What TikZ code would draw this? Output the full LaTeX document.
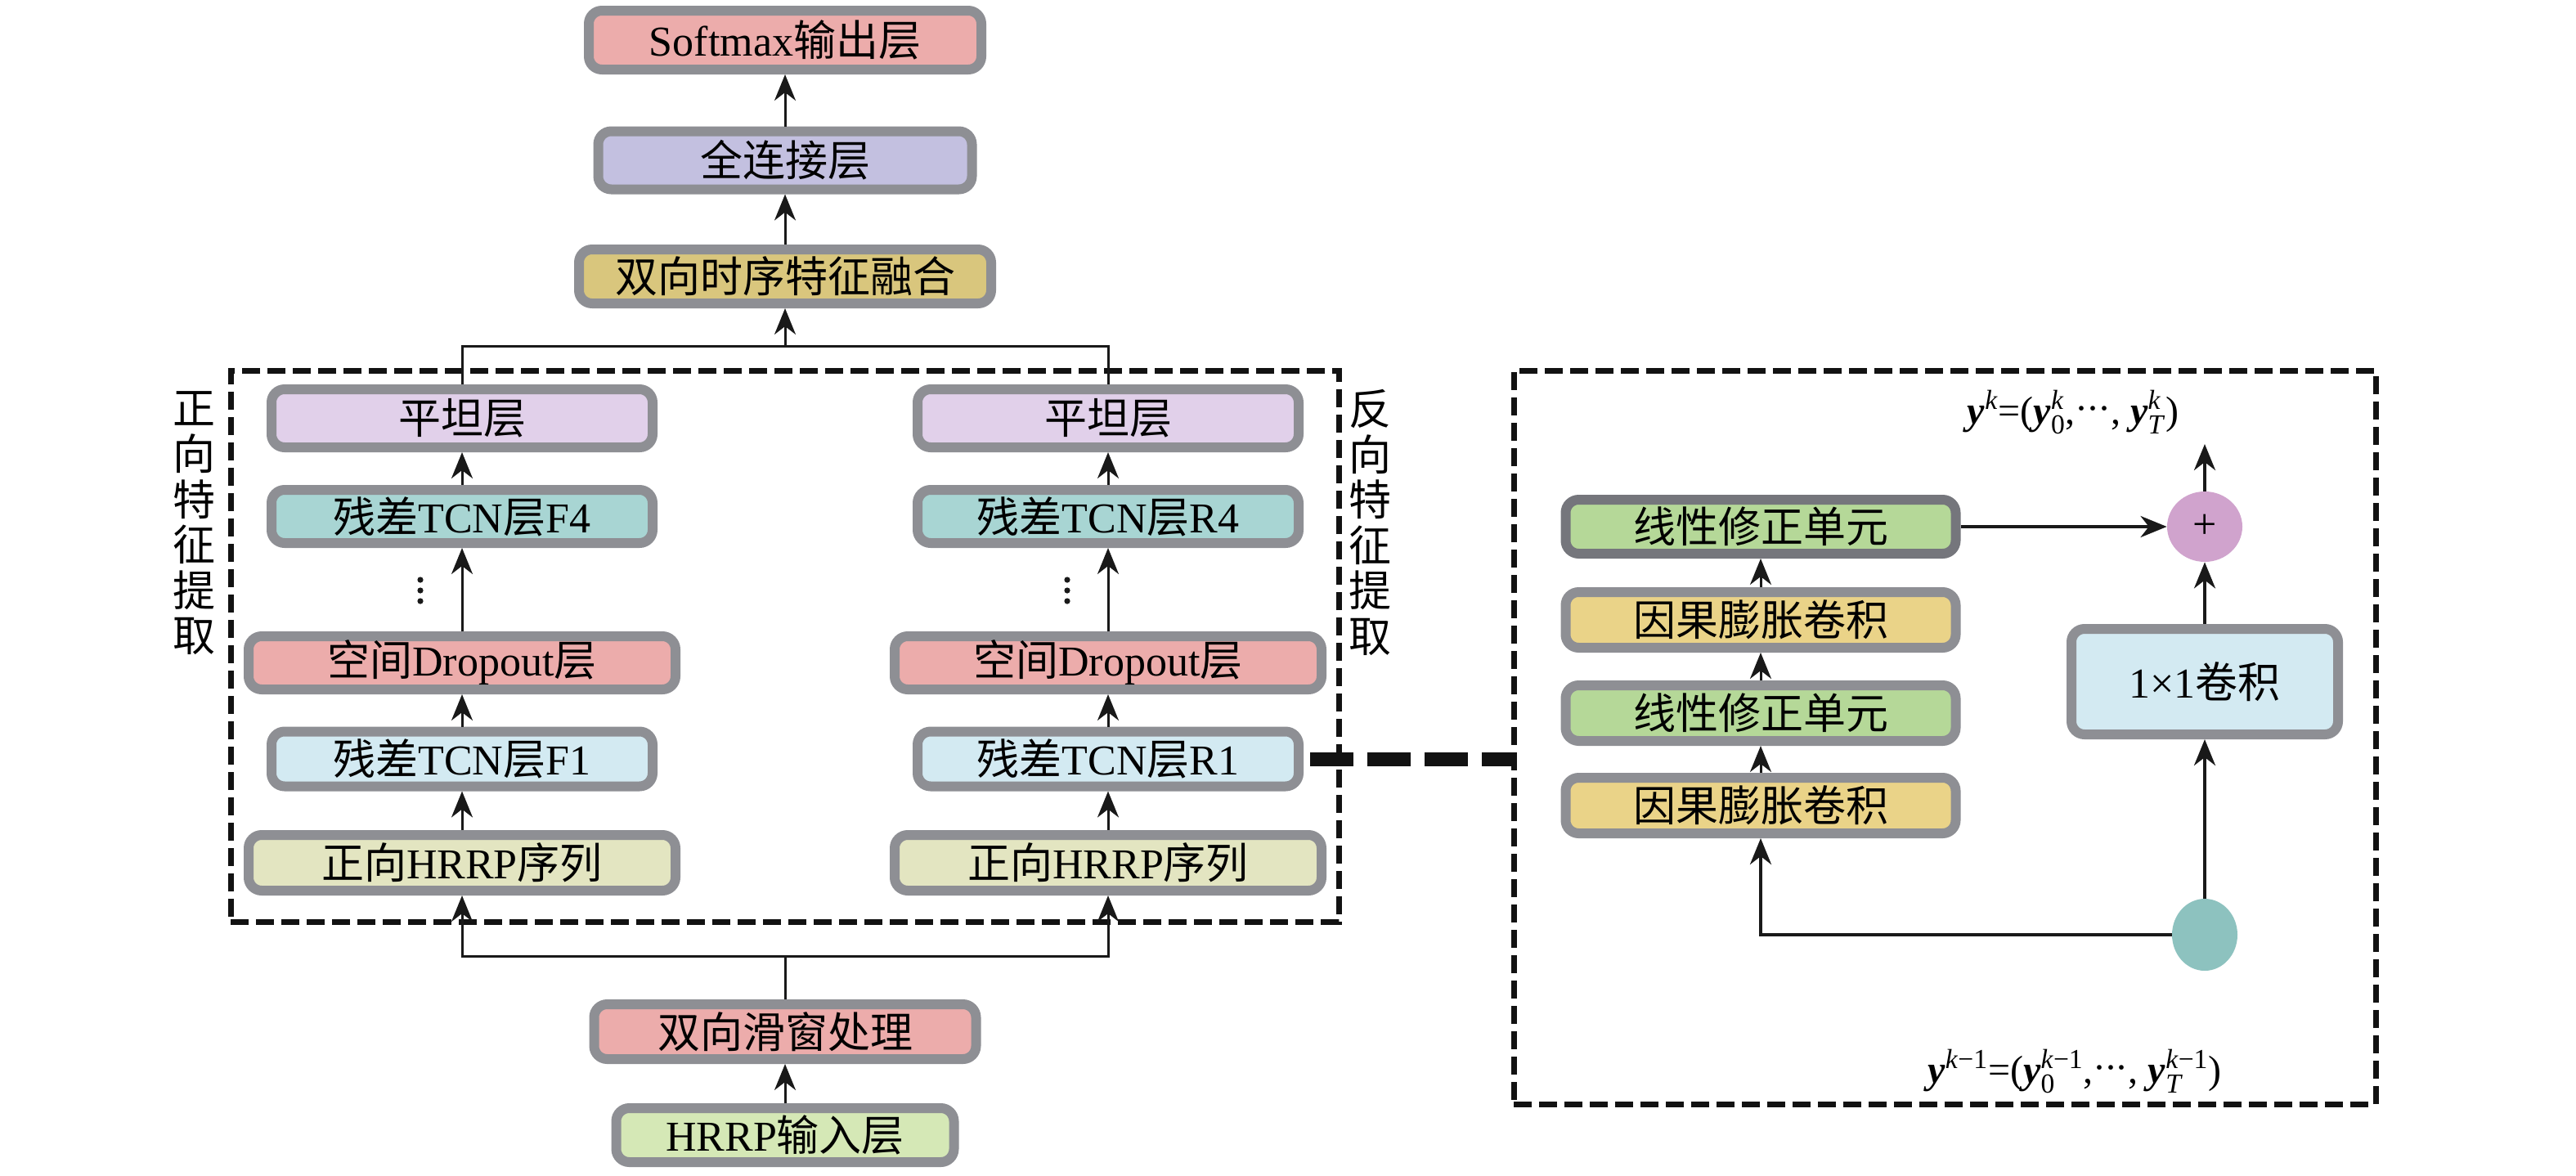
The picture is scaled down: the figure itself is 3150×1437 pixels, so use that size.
\documentclass[tikz,border=0pt]{standalone}
\usepackage{fontspec}
\usepackage{amsmath}
\setmainfont{Liberation Serif}
\newfontfamily\cjk{Noto Sans CJK SC}
\usetikzlibrary{shapes.geometric,arrows.meta}
\newcommand\zh[1]{{\cjk #1}}
\newcommand\yb{\textbf{\textit{y}}}
\newcommand\kk{\textit{k}}
\newcommand\km{\textit{k}\char"2212 1}
\newcommand\mydots{\raisebox{0.15ex}{\char"00B7\kern-0.05em\char"00B7\kern-0.05em\char"00B7}}
\definecolor{bordergray}{HTML}{8E8F94}
\definecolor{borderdark}{HTML}{75767C}
\definecolor{cpink}{HTML}{ECACAB}
\definecolor{clav}{HTML}{C3C0E0}
\definecolor{ckhaki}{HTML}{D9C67D}
\definecolor{clilac}{HTML}{E1D0EA}
\definecolor{cteal}{HTML}{A8D5D3}
\definecolor{cblue}{HTML}{D3EAF2}
\definecolor{ccream}{HTML}{E3E5C1}
\definecolor{clgreen}{HTML}{D5E8B6}
\definecolor{cgreen}{HTML}{B5D898}
\definecolor{cyellow}{HTML}{EAD388}
\definecolor{cplus}{HTML}{D0A3CD}
\definecolor{ctealdot}{HTML}{8DC2BF}
\begin{document}
\begin{tikzpicture}[x=0.5pt,y=-0.5pt,
  box/.style={draw=bordergray, line width=6pt, rounded corners=8pt, inner sep=0pt,
    font=\fontsize{26}{30}\selectfont},
  dbox/.style={draw=black!93, line width=3.5pt, dash pattern=on 11pt off 4.5pt, inner sep=0pt},
  line/.style={line width=1.5pt, draw=black!90},
  arr/.style={line, -{Stealth[length=16pt,width=13pt,inset=5pt]}},
  arrb/.style={line width=2pt, draw=black!90, -{Stealth[length=16pt,width=13pt,inset=5pt]}},
  lbl/.style={inner sep=0pt, font=\fontsize{24}{28}\selectfont},
  side/.style={inner sep=0pt, align=center, font=\cjk\fontsize{26}{27.8}\selectfont}
]
\useasboundingbox (0,0) rectangle (3150,1437);

% ---------------- top column ----------------
\node[box, fill=cpink, minimum width=240pt, minimum height=36pt] (soft) at (960,49) {Softmax\zh{输出层}};
\node[box, fill=clav, minimum width=228.5pt, minimum height=35.5pt] (fc) at (960,196) {\zh{全连接层}};
\node[box, fill=ckhaki, minimum width=252pt, minimum height=33pt] (fuse) at (960,338) {\zh{双向时序特征融合}};

% ---------------- left dashed region ----------------
\node[dbox, minimum width=677.5pt, minimum height=337pt] (lreg) at (959.5,790) {};

\node[box, fill=clilac, minimum width=233pt, minimum height=35.5pt] (flatL) at (565,511.5) {\zh{平坦层}};
\node[box, fill=cteal, minimum width=233pt, minimum height=32.5pt] (tcnF4) at (565,631.5) {\zh{残差}TCN\zh{层}F4};
\node[box, fill=cpink, minimum width=261pt, minimum height=32.5pt] (dropL) at (565,810.5) {\zh{空间}Dropout\zh{层}};
\node[box, fill=cblue, minimum width=233pt, minimum height=33.5pt] (tcnF1) at (565,928) {\zh{残差}TCN\zh{层}F1};
\node[box, fill=ccream, minimum width=261pt, minimum height=34pt] (seqL) at (565,1055) {\zh{正向}HRRP\zh{序列}};

\node[box, fill=clilac, minimum width=233pt, minimum height=35.5pt] (flatR) at (1355,511.5) {\zh{平坦层}};
\node[box, fill=cteal, minimum width=233pt, minimum height=32.5pt] (tcnR4) at (1355,631.5) {\zh{残差}TCN\zh{层}R4};
\node[box, fill=cpink, minimum width=261pt, minimum height=32.5pt] (dropR) at (1355,810.5) {\zh{空间}Dropout\zh{层}};
\node[box, fill=cblue, minimum width=233pt, minimum height=33.5pt] (tcnR1) at (1355,928) {\zh{残差}TCN\zh{层}R1};
\node[box, fill=ccream, minimum width=261pt, minimum height=34pt] (seqR) at (1355,1055) {\zh{正向}HRRP\zh{序列}};

\node[side] (sideL) at (237,640) {正\\向\\特\\征\\提\\取};
\node[side] (sideR) at (1675,639) {反\\向\\特\\征\\提\\取};

% vertical dots
\foreach \yy in {709,722,735} {
  \fill[black!90] (514,\yy) circle (1.8pt);
  \fill[black!90] (1305,\yy) circle (1.8pt);
}

% ---------------- bottom column ----------------
\node[box, fill=cpink, minimum width=233.5pt, minimum height=33.5pt] (slide) at (960,1261.5) {\zh{双向滑窗处理}};
\node[box, fill=clgreen, minimum width=206.5pt, minimum height=33pt] (inp) at (960,1388) {HRRP\zh{输入层}};

\coordinate (mt) at (960,423);
\coordinate (mb) at (960,1169);

% connectors left part
\draw[line] (flatL.north) |- (flatR.north |- mt) -- (flatR.north);
\draw[arr] (mt) -- (fuse.south);
\draw[arr] (fuse.north) -- (fc.south);
\draw[arr] (fc.north) -- (soft.south);

\draw[arr] (tcnF4.north) -- (flatL.south);
\draw[arr] (dropL.north) -- (tcnF4.south);
\draw[arr] (tcnF1.north) -- (dropL.south);
\draw[arr] (seqL.north) -- (tcnF1.south);

\draw[arr] (tcnR4.north) -- (flatR.south);
\draw[arr] (dropR.north) -- (tcnR4.south);
\draw[arr] (tcnR1.north) -- (dropR.south);
\draw[arr] (seqR.north) -- (tcnR1.south);

\draw[line] (slide.north) -- (mb);
\draw[arr] (mb) -| (seqL.south);
\draw[arr] (mb) -| (seqR.south);
\draw[arr] (inp.north) -- (slide.south);

% ---------------- right dashed region ----------------
\node[dbox, minimum width=527pt, minimum height=448.5pt] (rreg) at (2378,901.5) {};

\draw[black!93, line width=8.5pt, dash pattern=on 26.5pt off 8.5pt, shorten <=4pt] (tcnR1.east) -- (rreg.west |- tcnR1.east);

\node[box, draw=borderdark, fill=cgreen, minimum width=238.5pt, minimum height=33pt] (relu1) at (2153,644) {\zh{线性修正单元}};
\node[box, fill=cyellow, minimum width=238.5pt, minimum height=34pt] (cau1) at (2153,758) {\zh{因果膨胀卷积}};
\node[box, fill=cgreen, minimum width=238.5pt, minimum height=34pt] (relu2) at (2153,872) {\zh{线性修正单元}};
\node[box, fill=cyellow, minimum width=238.5pt, minimum height=34pt] (cau2) at (2153,985) {\zh{因果膨胀卷积}};

\node[box, fill=cblue, minimum width=163pt, minimum height=64.5pt] (conv) at (2696,833.5) {1\char"00D7 1\zh{卷积}};

\node[ellipse, fill=cplus, minimum width=46pt, minimum height=43pt, inner sep=0pt, font=\fontsize{26}{26}\selectfont] (plus) at (2696,644) {+};
\node[ellipse, fill=ctealdot, minimum width=40pt, minimum height=44pt, inner sep=0pt] (xin) at (2696,1143) {};

\coordinate (outtip) at (2696,543);

\node[lbl] (yk) at (2535,504) {$\text{\yb}^{\text{\kk}}$=($\text{\yb}^{\text{\kk}}_{\text{0}}$,\mydots, $\text{\yb}^{\text{\kk}}_{\text{\textit{T}}}$)};
\node[lbl] (yk1) at (2537,1310) {$\text{\yb}^{\text{\km}}$=($\text{\yb}^{\text{\km}}_{\text{0}}$,\mydots, $\text{\yb}^{\text{\km}}_{\text{\textit{T}}}$)};

\draw[arrb] (relu1.east) -- (plus.west);
\draw[arrb] (plus.north) -- (outtip);
\draw[arrb] (conv.north) -- (plus.south);
\draw[arrb] (xin.north) -- (conv.south);
\draw[arrb] (xin.west) -| (cau2.south);
\draw[arr] (cau2.north) -- (relu2.south);
\draw[arr] (relu2.north) -- (cau1.south);
\draw[arr] (cau1.north) -- (relu1.south);
\end{tikzpicture}
\end{document}
